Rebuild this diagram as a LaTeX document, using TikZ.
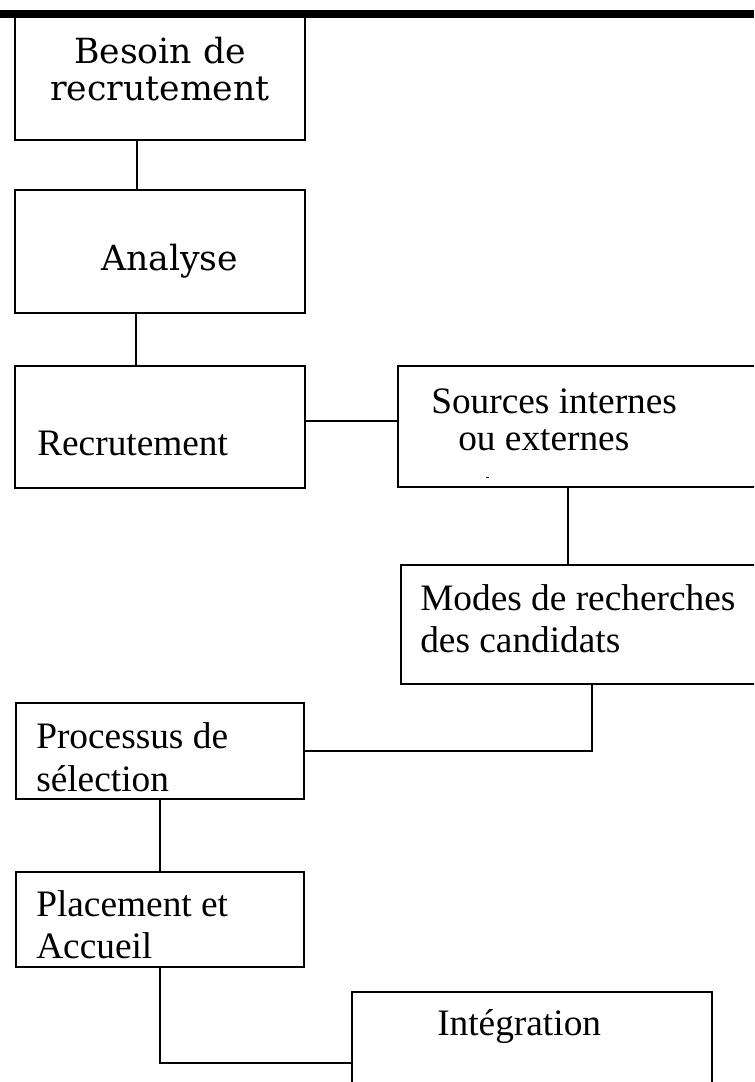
\documentclass[tikz,border=0pt]{standalone}
\usepackage{fontspec}
\setmainfont{Liberation Serif}
\newfontfamily\dvserif{DejaVu Serif}
\usetikzlibrary{fit}
\begin{document}
\begin{tikzpicture}[x=0.75pt,y=-0.75pt,
  box/.style={draw, line width=1.4pt, inner sep=0pt, rectangle},
  lbl/.style={anchor=base west, inner sep=0pt, font=\fontsize{28}{34}\selectfont},
  lblc/.style={anchor=base, inner sep=0pt, font=\dvserif\fontsize{26}{31}\selectfont},
  conn/.style={line width=1.4pt}]
\useasboundingbox (0,0) rectangle (754,1082);
\clip (0,0) rectangle (754,1082);
% top bar
\fill (0,10) rectangle (754,17.5);
% boxes
\node[box, fit={(15,17.5) (305,140)}] (b1) {};
\node[box, fit={(15,190) (305,313)}] (b2) {};
\node[box, fit={(15,366) (305,488)}] (b3) {};
\node[box, fit={(398,366) (790,487)}] (b4) {};
\node[box, fit={(401,565) (790,684)}] (b5) {};
\node[box, fit={(16,703) (304,799)}] (b6) {};
\node[box, fit={(16,872) (304,967)}] (b7) {};
\node[box, fit={(352,992) (712,1110)}] (b8) {};
% texts
\node[lblc] (t1a) at (160,63) {Besoin de};
\node[lblc] (t1b) at (160,100) {recrutement};
\node[lblc, anchor=base west] (t2) at (101,270) {Analyse};
\node[lbl] (t3) at (37,455) {Recrutement};
\node[lbl] (t4a) at (431,413) {Sources internes};
\node[lbl] (t4b) at (458,450) {ou externes};
\fill (486,476.5) rectangle (488.5,477.7);
\node[lbl] (t5a) at (420,610) {Modes de recherches};
\node[lbl] (t5b) at (420,652) {des candidats};
\node[lbl] (t6a) at (36,748) {Processus de};
\node[lbl] (t6b) at (36,791) {sélection};
\node[lbl] (t7a) at (36,916) {Placement et};
\node[lbl] (t7b) at (36,958) {Accueil};
\node[lbl] (t8) at (437,1035) {Intégration};
% connectors
\draw[conn] (b1.south -| 137,0) -- (b2.north -| 137,0);
\draw[conn] (b2.south -| 136,0) -- (b3.north -| 136,0);
\draw[conn] (b3.east |- 0,421) -- (b4.west |- 0,421);
\draw[conn] (b4.south -| 568,0) -- (b5.north -| 568,0);
\draw[conn] (b5.south -| 592,0) |- (b6.east |- 0,751);
\draw[conn] (b6.south -| 160,0) -- (b7.north -| 160,0);
\draw[conn] (b7.south -| 160,0) |- (b8.west |- 0,1063);
\end{tikzpicture}
\end{document}
